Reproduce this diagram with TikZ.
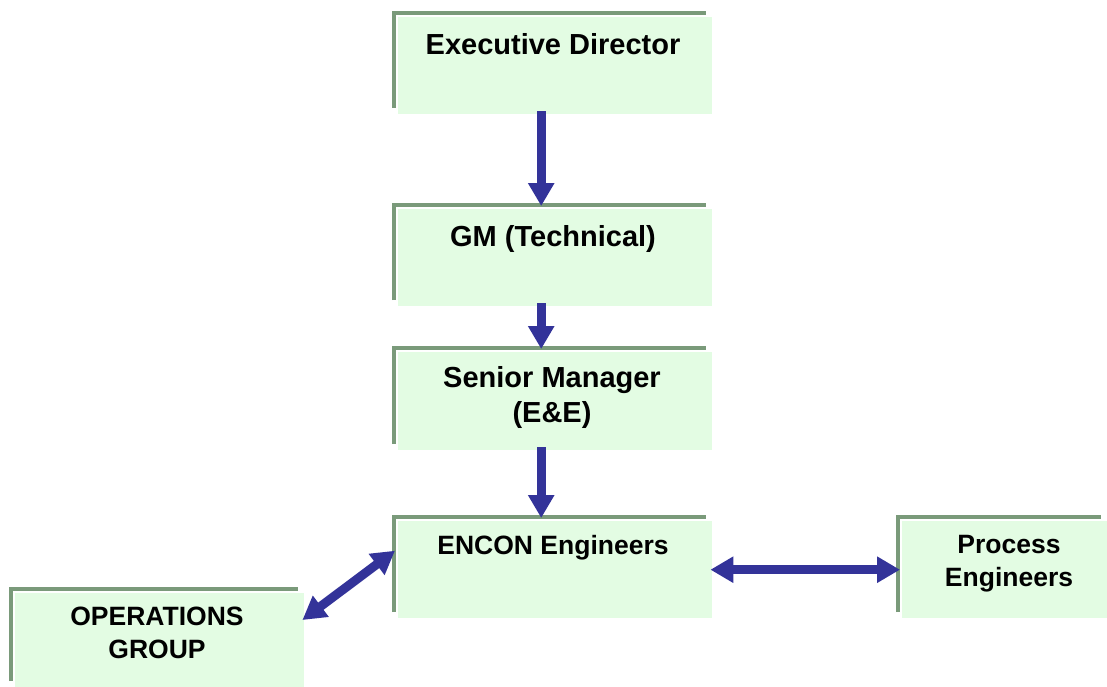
\documentclass[tikz,border=0pt]{standalone}
\usepackage{fontspec}
\setmainfont{Liberation Sans}
\usetikzlibrary{arrows.meta}
\definecolor{boxfill}{HTML}{E3FCE3}
\definecolor{boxline}{HTML}{7A9A7A}
\definecolor{arrowblue}{HTML}{333399}
\tikzset{
  boxfillstyle/.style={fill=boxfill, draw=none, inner sep=0pt, anchor=north west},
  boxedge/.style={draw=boxline, line width=3.5pt},
  bigtext/.style={font=\bfseries\fontsize{29}{35}\selectfont, align=center, inner sep=0pt},
  smalltext/.style={font=\bfseries\fontsize{26.5}{33}\selectfont, align=center, inner sep=0pt},
  flow/.style={draw=arrowblue, line width=9pt, -{Triangle[width=25pt,length=23pt]}},
  bothflow/.style={draw=arrowblue, line width=9pt, {Triangle[width=25pt,length=23pt]}-{Triangle[width=25pt,length=23pt]}},
}
% \orgbox{name}{x0}{y0}{x1}{y1}: edge lines start at (x0,y0), fill reaches (x1,y1)
\newcommand{\orgbox}[5]{%
  \node[boxfillstyle, minimum width={#4-#2-4}, minimum height={#5-#3-4}] (#1) at (#2+4,#3+4) {};
  \draw[boxedge] (#2,#5-6) -- (#2,#3) -- (#4-6,#3);
}
\begin{document}
\begin{tikzpicture}[x=1pt,y=-1pt]
\useasboundingbox (0,0) rectangle (1107,687);

\orgbox{exec}{394}{13}{712}{114}
\orgbox{gm}{394}{205}{712}{306}
\orgbox{sm}{394}{348}{712}{450}
\orgbox{encon}{394}{517}{712}{618}
\orgbox{proc}{898}{517}{1107}{618}
\orgbox{ops}{11}{589}{304}{687}

\node[bigtext] (exect) at (553,44) {Executive Director};
\node[bigtext] (gmt) at (553,239) {GM (Technical)};
\node[bigtext] (smt) at (552,397) {Senior Manager\\(E\&E)};
\node[smalltext] (encont) at (553,548) {ENCON Engineers};
\node[smalltext] (proct) at (1009,564) {Process\\Engineers};
\node[smalltext] (opst) at (157,633) {OPERATIONS\\GROUP};

\draw[flow] ([xshift=-14pt,yshift=3pt]exec.south) -- ([xshift=-14pt,yshift=3pt]gm.north);
\draw[flow] ([xshift=-14pt,yshift=3pt]gm.south) -- ([xshift=-14pt,yshift=3pt]sm.north);
\draw[flow] ([xshift=-14pt,yshift=3pt]sm.south) -- ([xshift=-14pt,yshift=3pt]encon.north);
\draw[bothflow] ([xshift=-2pt]encon.east) -- ([xshift=-2pt]proc.west);
\draw[bothflow] ([xshift=-2pt,yshift=-27pt]ops.north east) -- ([xshift=-3pt,yshift=19pt]encon.west);
\end{tikzpicture}
\end{document}
